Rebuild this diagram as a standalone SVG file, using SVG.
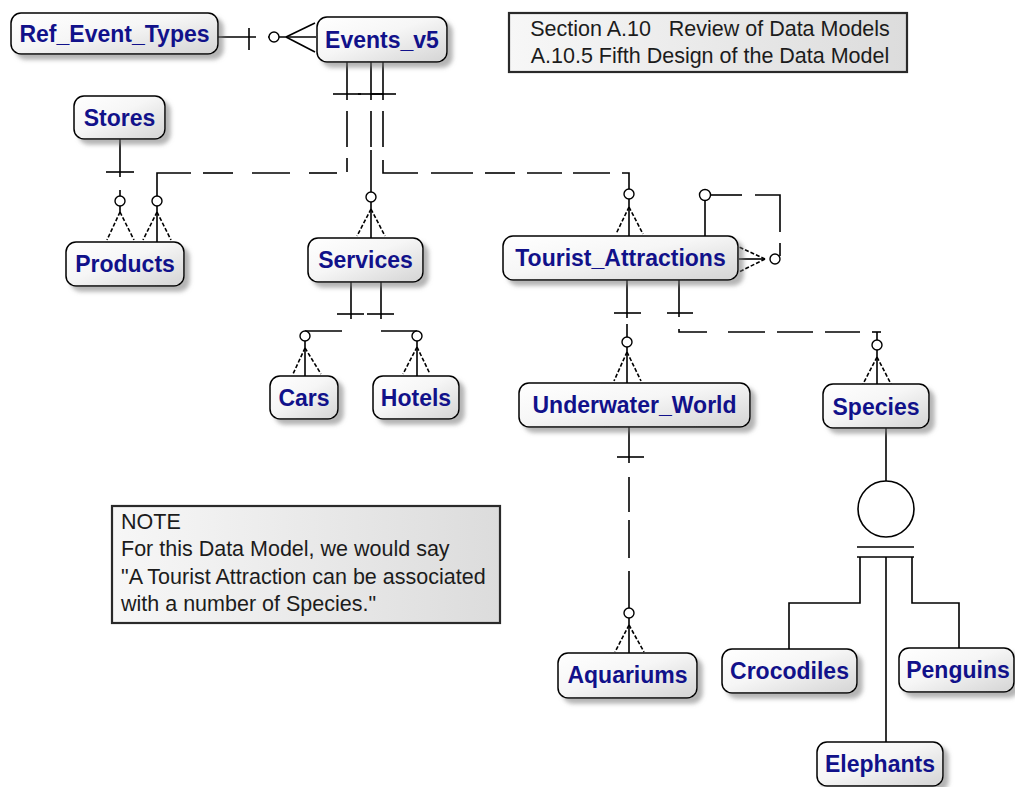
<svg xmlns="http://www.w3.org/2000/svg" width="1015" height="787" viewBox="0 0 1015 787">
<defs>
<linearGradient id="ng" x1="0" y1="0" x2="1" y2="1"><stop offset="0" stop-color="#ffffff"/><stop offset="0.45" stop-color="#f6f6f6"/><stop offset="1" stop-color="#d4d4d4"/></linearGradient>
<linearGradient id="tg" x1="0" y1="0" x2="1" y2="0"><stop offset="0" stop-color="#f7f7f7"/><stop offset="1" stop-color="#dcdcdc"/></linearGradient>
<filter id="sh" x="-10%" y="-20%" width="130%" height="160%"><feDropShadow dx="5" dy="5" stdDeviation="2" flood-color="#777" flood-opacity="0.55"/></filter>
</defs>
<style>
.node rect{fill:url(#ng);stroke:#000;stroke-width:1.5;filter:url(#sh)}
.node text{font-family:"Liberation Sans",Arial,sans-serif;font-weight:bold;font-size:23px;fill:#11118a;text-anchor:middle}
.box rect{fill:url(#tg);stroke:#2a2a2a;stroke-width:2.2}
.box text{font-family:"Liberation Sans",Arial,sans-serif;font-size:21.5px;fill:#1c1c1c;white-space:pre}
.c line,.c path{stroke:#000;stroke-width:1.6;fill:none}
.c circle{fill:#fff;stroke:#000;stroke-width:1.4}
.c .lg{stroke-dasharray:4 2}
.c .sup{fill:none;stroke-width:1.6}
</style>
<rect width="1015" height="787" fill="#fff"/>
<g id="connectors" class="c">
<!-- Ref_Event_Types -> Events_v5 -->
<line x1="218" y1="37" x2="256" y2="37"/>
<line x1="249" y1="28" x2="249" y2="50"/>
<line x1="268" y1="37" x2="316" y2="37"/>
<circle cx="274" cy="37" r="5"/>
<line x1="286" y1="37" x2="315" y2="23"/>
<line x1="286" y1="37" x2="315" y2="52"/>
<!-- Events_v5 -> Products -->
<line x1="347" y1="62" x2="347" y2="100"/>
<line x1="333" y1="94" x2="361" y2="94"/>
<line x1="347" y1="111" x2="347" y2="147"/>
<line x1="347" y1="158" x2="347" y2="172"/>
<line x1="337" y1="173" x2="309" y2="173"/>
<line x1="290" y1="173" x2="252" y2="173"/>
<line x1="233" y1="173" x2="203" y2="173"/>
<path d="M191,173 H157 V242"/>
<circle cx="157" cy="201" r="5"/>
<line class="lg" x1="157" y1="212" x2="143" y2="240"/>
<line class="lg" x1="157" y1="212" x2="171" y2="240"/>
<!-- Events_v5 -> Services -->
<line x1="371" y1="62" x2="371" y2="100"/>
<line x1="358" y1="94" x2="384" y2="94"/>
<line x1="371" y1="111" x2="371" y2="147"/>
<line x1="371" y1="150" x2="371" y2="192"/>
<circle cx="371" cy="197" r="5"/>
<line x1="371" y1="202" x2="371" y2="238"/>
<line class="lg" x1="371" y1="209" x2="357" y2="236"/>
<line class="lg" x1="371" y1="209" x2="385" y2="236"/>
<!-- Events_v5 -> Tourist_Attractions -->
<line x1="383" y1="62" x2="383" y2="100"/>
<line x1="370" y1="94" x2="396" y2="94"/>
<line x1="383" y1="111" x2="383" y2="147"/>
<path d="M383,160 V173 H418"/>
<line x1="431" y1="173" x2="473" y2="173"/>
<line x1="485" y1="173" x2="515" y2="173"/>
<line x1="527" y1="173" x2="562" y2="173"/>
<line x1="573" y1="173" x2="610" y2="173"/>
<path d="M622,173 H629 V189"/>
<circle cx="629" cy="194" r="5"/>
<line x1="629" y1="199" x2="629" y2="236"/>
<line class="lg" x1="629" y1="207" x2="616" y2="234"/>
<line class="lg" x1="629" y1="207" x2="643" y2="234"/>
<!-- Stores -> Products -->
<line x1="120" y1="139" x2="120" y2="177"/>
<line x1="106" y1="172" x2="134" y2="172"/>
<line x1="120" y1="190" x2="120" y2="196"/>
<circle cx="120" cy="201" r="5"/>
<line x1="120" y1="206" x2="120" y2="214"/>
<line class="lg" x1="120" y1="212" x2="107" y2="240"/>
<line class="lg" x1="120" y1="212" x2="134" y2="240"/>
<!-- Services -> Cars -->
<line x1="351" y1="282" x2="351" y2="319"/>
<line x1="337" y1="314" x2="364" y2="314"/>
<line x1="342" y1="331" x2="305" y2="331"/>
<circle cx="305" cy="336" r="5"/>
<line x1="305" y1="341" x2="305" y2="376"/>
<line class="lg" x1="305" y1="348" x2="293" y2="374"/>
<line class="lg" x1="305" y1="348" x2="321" y2="374"/>
<!-- Services -> Hotels -->
<line x1="381" y1="282" x2="381" y2="319"/>
<line x1="367" y1="314" x2="394" y2="314"/>
<line x1="381" y1="331" x2="417" y2="331"/>
<circle cx="417" cy="336" r="5"/>
<line x1="417" y1="341" x2="417" y2="376"/>
<line class="lg" x1="417" y1="347" x2="403" y2="374"/>
<line class="lg" x1="417" y1="347" x2="430" y2="374"/>
<!-- Tourist_Attractions self relationship -->
<line x1="705" y1="236" x2="705" y2="200"/>
<circle cx="705" cy="195" r="5.5"/>
<line x1="711" y1="195" x2="742" y2="195"/>
<path d="M755,195 H780 V232"/>
<line x1="780" y1="243" x2="780" y2="256"/>
<circle cx="775" cy="259" r="5"/>
<line class="lg" x1="765" y1="259" x2="739" y2="247"/>
<line x1="765" y1="259" x2="739" y2="259"/>
<line class="lg" x1="765" y1="259" x2="739" y2="272"/>
<!-- Tourist_Attractions -> Underwater_World -->
<line x1="627" y1="280" x2="627" y2="318"/>
<line x1="614" y1="313" x2="641" y2="313"/>
<line x1="627" y1="324" x2="627" y2="337"/>
<circle cx="627" cy="342" r="5"/>
<line x1="627" y1="347" x2="627" y2="383"/>
<line class="lg" x1="627" y1="352" x2="614" y2="381"/>
<line class="lg" x1="627" y1="352" x2="641" y2="381"/>
<!-- Tourist_Attractions -> Species -->
<line x1="679" y1="280" x2="679" y2="317"/>
<line x1="667" y1="313" x2="693" y2="313"/>
<path d="M679,329 V332 H707"/>
<line x1="728" y1="332" x2="765" y2="332"/>
<line x1="777" y1="332" x2="813" y2="332"/>
<line x1="825" y1="332" x2="860" y2="332"/>
<line x1="872" y1="332" x2="881" y2="332"/>
<line x1="877" y1="332" x2="877" y2="340"/>
<circle cx="877" cy="345" r="5"/>
<line x1="877" y1="350" x2="877" y2="384"/>
<line class="lg" x1="877" y1="357" x2="863" y2="384"/>
<line class="lg" x1="877" y1="357" x2="891" y2="384"/>
<!-- Underwater_World -> Aquariums -->
<line x1="629" y1="427" x2="629" y2="463"/>
<line x1="617" y1="457" x2="644" y2="457"/>
<line x1="629" y1="477" x2="629" y2="512"/>
<line x1="629" y1="520" x2="629" y2="558"/>
<line x1="629" y1="571" x2="629" y2="608"/>
<circle cx="629" cy="613" r="5"/>
<line x1="629" y1="618" x2="629" y2="653"/>
<line class="lg" x1="629" y1="625" x2="615" y2="652"/>
<line class="lg" x1="629" y1="625" x2="644" y2="652"/>
<!-- Species subtype cluster -->
<line x1="886" y1="428" x2="886" y2="481"/>
<circle class="sup" cx="886" cy="509" r="28"/>
<line x1="857" y1="547" x2="914" y2="547"/>
<line x1="857" y1="557" x2="914" y2="557"/>
<path d="M860,557 V603 H789 V649"/>
<line x1="886" y1="557" x2="886" y2="742"/>
<path d="M912,557 V603 H959 V648"/>
</g>
<g id="title" class="box">
<rect x="509" y="13" width="398" height="59"/>
<text x="710" y="36" text-anchor="middle">Section A.10   Review of Data Models</text>
<text x="710" y="63" text-anchor="middle">A.10.5 Fifth Design of the Data Model</text>
</g>
<g id="note" class="box">
<rect x="112" y="506" width="388" height="117"/>
<text x="121" y="529">NOTE</text>
<text x="121" y="556">For this Data Model, we would say</text>
<text x="121" y="584">"A Tourist Attraction can be associated</text>
<text x="121" y="611">with a number of Species."</text>
</g>
<g id="Ref_Event_Types" class="node"><rect x="11" y="13" width="207" height="41" rx="10"/><text x="114.5" y="42">Ref_Event_Types</text></g>
<g id="Events_v5" class="node"><rect x="317" y="17" width="130" height="45" rx="10"/><text x="382" y="48">Events_v5</text></g>
<g id="Stores" class="node"><rect x="74" y="96" width="91" height="43" rx="10"/><text x="119.5" y="126">Stores</text></g>
<g id="Products" class="node"><rect x="66" y="242" width="118" height="44" rx="10"/><text x="125" y="272">Products</text></g>
<g id="Services" class="node"><rect x="308" y="238" width="115" height="44" rx="10"/><text x="365.5" y="268">Services</text></g>
<g id="Cars" class="node"><rect x="270" y="376" width="68" height="43" rx="10"/><text x="304" y="406">Cars</text></g>
<g id="Hotels" class="node"><rect x="373" y="376" width="86" height="43" rx="10"/><text x="416" y="406">Hotels</text></g>
<g id="Tourist_Attractions" class="node"><rect x="503" y="236" width="235" height="44" rx="10"/><text x="620.5" y="266">Tourist_Attractions</text></g>
<g id="Underwater_World" class="node"><rect x="519" y="383" width="231" height="44" rx="10"/><text x="634.5" y="413">Underwater_World</text></g>
<g id="Species" class="node"><rect x="823" y="384" width="106" height="44" rx="10"/><text x="876" y="415">Species</text></g>
<g id="Aquariums" class="node"><rect x="558" y="653" width="139" height="45" rx="10"/><text x="627.5" y="683">Aquariums</text></g>
<g id="Crocodiles" class="node"><rect x="722" y="649" width="135" height="44" rx="10"/><text x="789.5" y="679">Crocodiles</text></g>
<g id="Penguins" class="node"><rect x="899" y="648" width="115" height="44" rx="10"/><text x="958" y="678">Penguins</text></g>
<g id="Elephants" class="node"><rect x="817" y="742" width="126" height="44" rx="10"/><text x="880" y="772">Elephants</text></g>
</svg>
